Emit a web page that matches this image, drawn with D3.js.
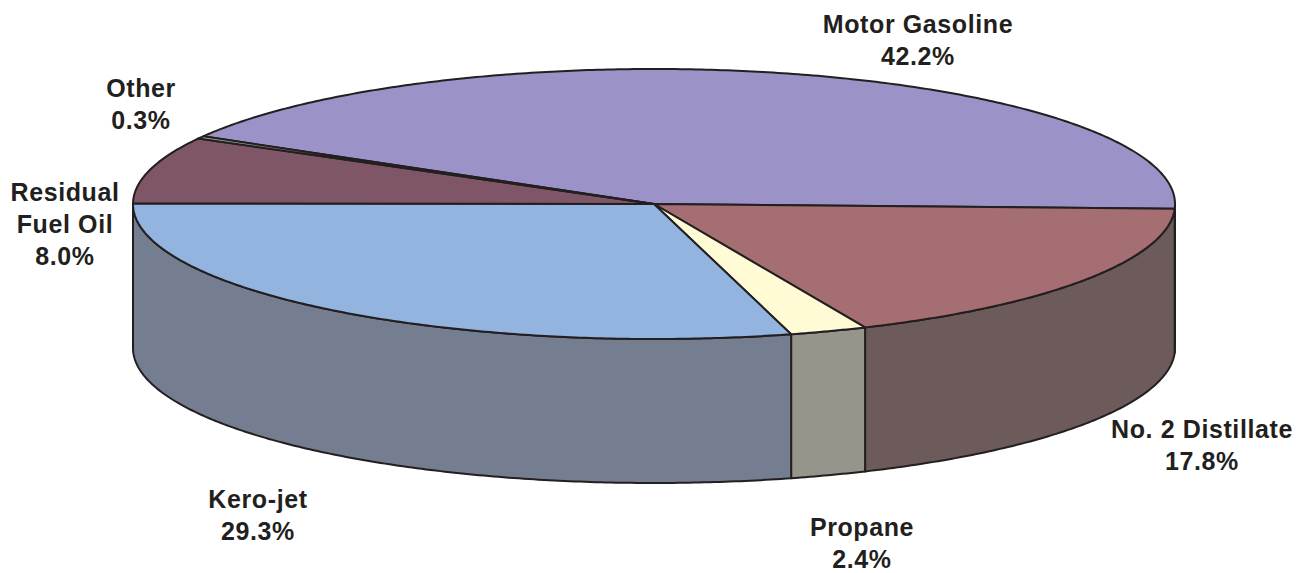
<!DOCTYPE html>
<html>
<head>
<meta charset="utf-8">
<script src="https://cdn.jsdelivr.net/npm/d3@7/dist/d3.min.js"></script>
<style>
html, body { margin: 0; padding: 0; background: #fff; }
svg { display: block; }
.label text { font-family: "Liberation Sans", Arial, sans-serif; font-weight: bold; font-size: 25px; fill: #231f20; text-anchor: middle; letter-spacing: 0.6px; }
.top path, .side path { stroke: #231f20; stroke-width: 2; stroke-linejoin: round; }
</style>
</head>
<body>
<script>
// fuel shares, clockwise from the Motor Gasoline slice
var categories = ["Motor Gasoline", "No. 2 Distillate", "Propane", "Kero-jet", "Residual\nFuel Oil", "Other"];
var shares = [42.2, 17.8, 2.4, 29.3, 8.0, 0.3];

var topColors = ["#9b93c8", "#a46e72", "#fffbd5", "#93b4df", "#7f5568", "#a8b09a"];
var sideColors = ["#6f6a90", "#6c5b5a", "#95958b", "#747e90", "#5b3d4b", "#78806e"];

// label centres (x, first baseline y)
var labelX = [918, 1202, 862, 258, 65, 141];
var labelY = [33, 438, 536, 508, 201, 97];

var width = 1297,
    height = 573,
    cx = 654,
    cy = 204,
    rx = 521,
    ry = 135,
    depth = 144,
    lineGap = 32;

var x = d3.scaleLinear().domain([-1, 1]).range([cx - rx, cx + rx]);
var y = d3.scaleLinear().domain([-1, 1]).range([cy + ry, cy - ry]);

var startAngle = -59.9 * Math.PI / 180;
var slices = d3.pie().sort(null).startAngle(startAngle).endAngle(startAngle + 2 * Math.PI)(shares);

var rim = d3.line().x(function(d){return x(Math.sin(d));}).y(function(d){return y(Math.cos(d));});

function rimAngles(a0, a1){
    var n = Math.max(2, Math.ceil((a1 - a0) / 0.01));
    return d3.range(n + 1).map(function(i){return a0 + (a1 - a0) * i / n;});
}

function topPath(d){
    return "M" + cx + "," + cy + "L" + rim(rimAngles(d.startAngle, d.endAngle)).slice(1) + "Z";
}

// only the front half of the rim (90 to 270 degrees) shows a wall
function sidePath(d){
    var a0 = Math.max(d.startAngle, Math.PI / 2),
        a1 = Math.min(d.endAngle, 3 * Math.PI / 2);
    if(a1 <= a0){ return null; }
    var angles = rimAngles(a0, a1);
    return rim(angles) + "L" + rim(angles.reverse()).slice(1).split("L").map(function(p){
        var c = p.split(",");
        return (+c[0]) + "," + (+c[1] + depth);
    }).join("L") + "Z";
}

var svg = d3.select("body").append("svg")
    .attr("width", width)
    .attr("height", height);

svg.append("g")
    .attr("class", "side")
    .selectAll("path")
    .data(slices).enter()
    .append("path")
    .attr("d", sidePath)
    .attr("fill", function(d, i){return sideColors[i];});

svg.append("g")
    .attr("class", "top")
    .selectAll("path")
    .data(slices).enter()
    .append("path")
    .attr("d", topPath)
    .attr("fill", function(d, i){return topColors[i];});

var label = svg.append("g")
    .attr("class", "label")
    .selectAll("text")
    .data(categories).enter()
    .append("text")
    .attr("x", function(d, i){return labelX[i];})
    .attr("y", function(d, i){return labelY[i];});

label.selectAll("tspan")
    .data(function(d, i){return d.split("\n").concat(shares[i].toFixed(1) + "%");})
    .enter()
    .append("tspan")
    .attr("x", function(){return d3.select(this.parentNode).attr("x");})
    .attr("dy", function(d, i){return i == 0 ? 0 : lineGap;})
    .text(function(d){return d;});
</script>
</body>
</html>
